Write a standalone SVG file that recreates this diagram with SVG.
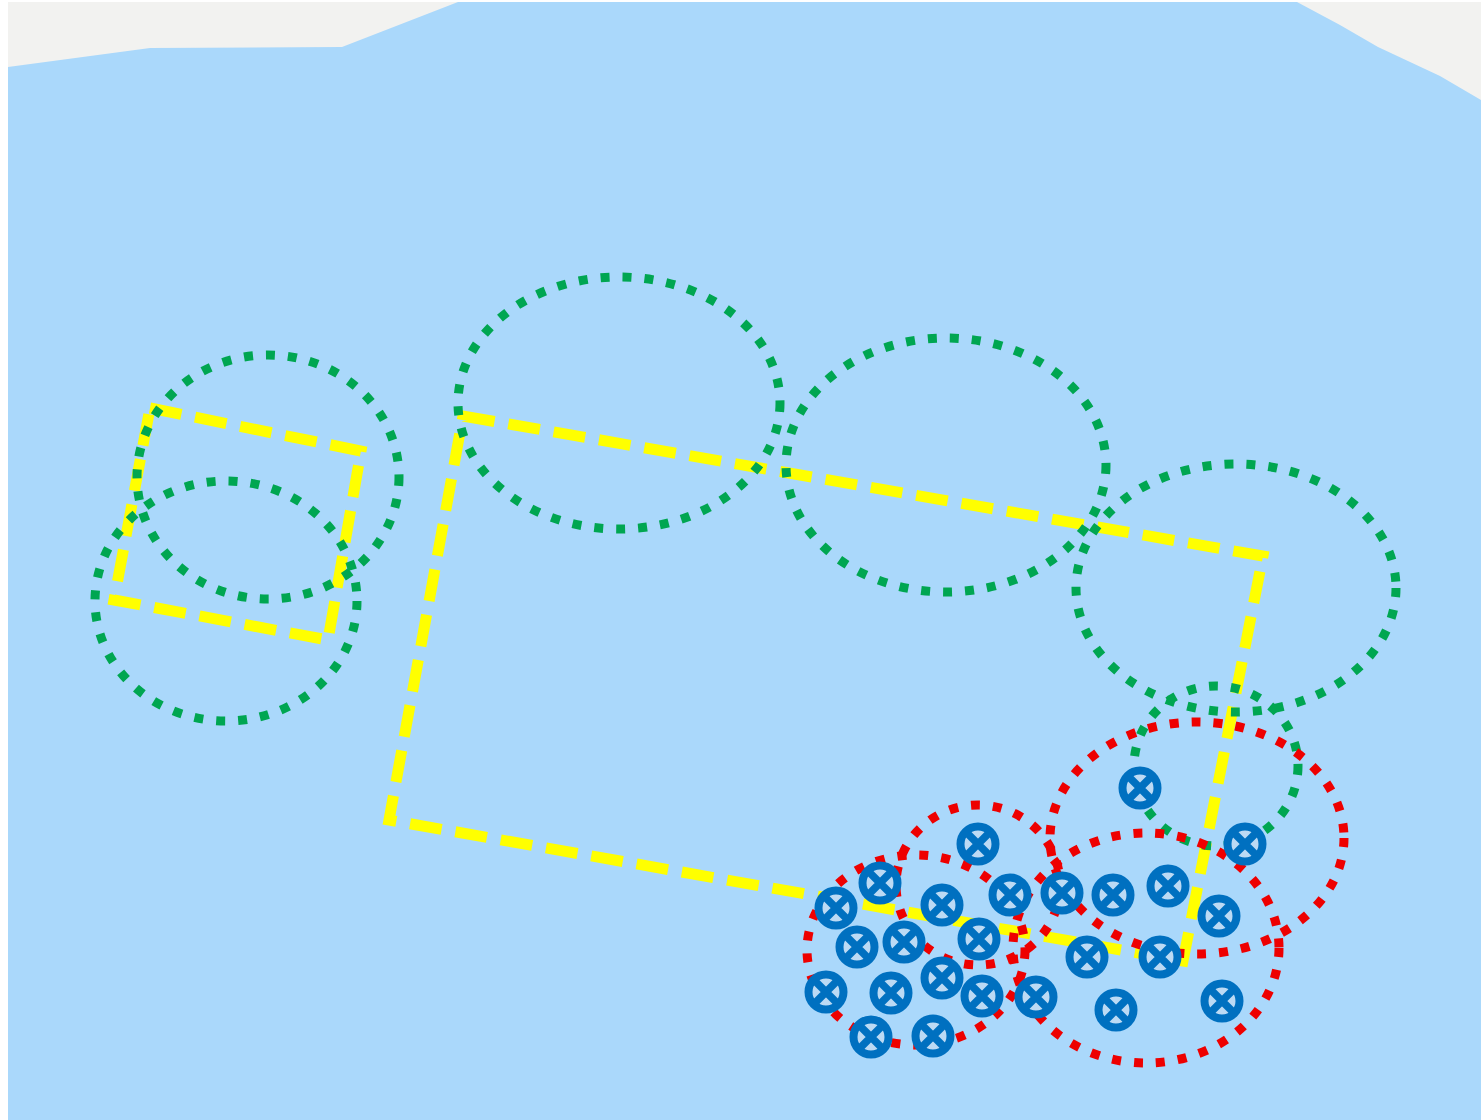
<svg xmlns="http://www.w3.org/2000/svg" width="1481" height="1120" viewBox="0 0 1481 1120">
<defs>
<style>
.g{fill:none;stroke:#00a651;stroke-width:9;stroke-dasharray:9 13}
.r{fill:none;stroke:#ee0000;stroke-width:9;stroke-dasharray:9 13}
.y{fill:none;stroke:#ffff00;stroke-width:11;stroke-dasharray:32 14;stroke-linejoin:miter}
.m circle{fill:#bcdaf4;stroke:#0070c0;stroke-width:8}
.m path{stroke:#0070c0;stroke-width:7.5;fill:none}
</style>
<g id="mk" class="m"><circle r="17.5"/><path d="M-12.5,-12.5L12.5,12.5M-12.5,12.5L12.5,-12.5"/></g>
</defs>
<rect width="1481" height="1120" fill="#ffffff"/>
<rect x="8" y="2" width="1473" height="160" fill="#f2f2f0"/>
<polygon fill="#aad8fb" points="8,67 150,48 342,47 458,2 1297,2 1340,25 1378,47 1440,76 1481,100 1481,1120 8,1120"/>
<g id="yellow-areas">
<polygon id="area-small" class="y" points="150,408 361,451 328,640 114,600"/>
<polygon id="area-large" class="y" points="463,416 1263,556 1183,961 389,820"/>
</g>
<g id="green-zones">
<ellipse id="gz1" class="g" cx="268" cy="477" rx="131" ry="122"/>
<ellipse id="gz2" class="g" cx="226" cy="601" rx="131" ry="120"/>
<ellipse id="gz3" class="g" cx="619" cy="403" rx="161" ry="126"/>
<ellipse id="gz4" class="g" cx="946" cy="465" rx="160" ry="127"/>
<ellipse id="gz5" class="g" cx="1236" cy="588" rx="160" ry="124"/>
<ellipse id="gz6" class="g" cx="1216" cy="766" rx="82" ry="80"/>
</g>
<g id="red-zones">
<ellipse id="rz1" class="r" cx="1197" cy="838" rx="147" ry="116"/>
<ellipse id="rz2" class="r" cx="1146" cy="948" rx="133" ry="115"/>
<ellipse id="rz3" class="r" cx="978" cy="885" rx="82" ry="80"/>
<ellipse id="rz4" class="r" cx="916" cy="950" rx="109" ry="95"/>
</g>
<g id="connectors"></g>
<g id="markers">
<use id="m1" href="#mk" x="1140" y="788"/>
<use id="m2" href="#mk" x="978" y="844"/>
<use id="m3" href="#mk" x="1245" y="844"/>
<use id="m4" href="#mk" x="880" y="883"/>
<use id="m5" href="#mk" x="836" y="908"/>
<use id="m6" href="#mk" x="942" y="905"/>
<use id="m7" href="#mk" x="1010" y="895"/>
<use id="m8" href="#mk" x="1062" y="893"/>
<use id="m9" href="#mk" x="1113" y="895"/>
<use id="m10" href="#mk" x="1168" y="886"/>
<use id="m11" href="#mk" x="1219" y="916"/>
<use id="m12" href="#mk" x="857" y="947"/>
<use id="m13" href="#mk" x="904" y="942"/>
<use id="m14" href="#mk" x="979" y="939"/>
<use id="m15" href="#mk" x="1087" y="957"/>
<use id="m16" href="#mk" x="1160" y="957"/>
<use id="m17" href="#mk" x="826" y="992"/>
<use id="m18" href="#mk" x="891" y="993"/>
<use id="m19" href="#mk" x="942" y="978"/>
<use id="m20" href="#mk" x="982" y="996"/>
<use id="m21" href="#mk" x="1036" y="997"/>
<use id="m22" href="#mk" x="1116" y="1010"/>
<use id="m23" href="#mk" x="1222" y="1001"/>
<use id="m24" href="#mk" x="871" y="1037"/>
<use id="m25" href="#mk" x="933" y="1036"/>
</g>
</svg>
